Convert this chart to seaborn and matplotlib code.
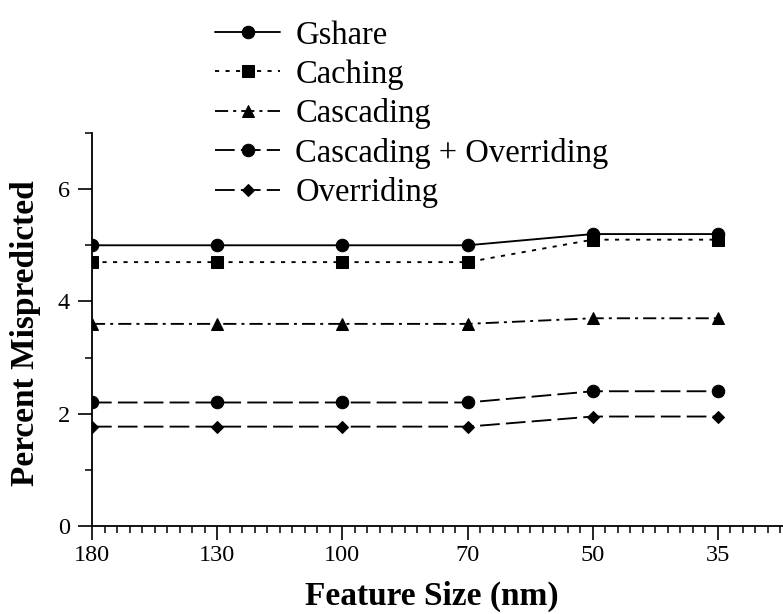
import matplotlib
matplotlib.use("Agg")
import matplotlib.pyplot as plt
from matplotlib.ticker import FixedLocator, MultipleLocator
import pandas as pd
import seaborn as sns

# Feature sizes (nm) and misprediction rates per predictor
feature_sizes = ["180", "130", "100", "70", "50", "35"]
gshare = [5.0, 5.0, 5.0, 5.0, 5.2, 5.2]
caching = [4.7, 4.7, 4.7, 4.7, 5.1, 5.1]
cascading = [3.6, 3.6, 3.6, 3.6, 3.7, 3.7]
cascading_overriding = [2.2, 2.2, 2.2, 2.2, 2.4, 2.4]
overriding = [1.77, 1.77, 1.77, 1.77, 1.95, 1.95]

series_names = ["Gshare", "Caching", "Cascading", "Cascading + Overriding", "Overriding"]
series_values = [gshare, caching, cascading, cascading_overriding, overriding]

rows = []
for name, vals in zip(series_names, series_values):
    for i, v in enumerate(vals):
        rows.append({"pos": i, "rate": v, "Predictor": name})
df = pd.DataFrame(rows)

sns.set_theme(style="ticks")
plt.rcParams["font.family"] = ["Liberation Serif", "DejaVu Serif"]
plt.rcParams["axes.linewidth"] = 1.3
plt.rcParams["text.color"] = "black"
plt.rcParams["axes.labelcolor"] = "black"

markers = {"Gshare": "o", "Caching": "s", "Cascading": "^",
           "Cascading + Overriding": "o", "Overriding": "D"}
dashes = {"Gshare": "",
          "Caching": (2.2, 3.4),
          "Cascading": (7.0, 2.7, 1.6, 2.7),
          "Cascading + Overriding": (10.5, 3.3),
          "Overriding": (10.5, 3.3)}
palette = {n: "black" for n in series_names}

fig = plt.figure(figsize=(7.83, 6.14), dpi=100)
ax = fig.add_axes([92 / 783, 88 / 614, (783 - 92) / 783, 393 / 614])

sns.lineplot(data=df, x="pos", y="rate", hue="Predictor", style="Predictor",
             hue_order=series_names, style_order=series_names,
             palette=palette, markers=markers, dashes=dashes,
             linewidth=1.35, markersize=9, markeredgecolor="black",
             ax=ax, legend=True)

# smaller diamonds and squares
for line in ax.lines:
    if line.get_marker() == "D":
        line.set_markersize(6.5)
    if line.get_marker() == "s":
        line.set_markersize(8)

ax.set_xlim(0, 5.52)
ax.set_ylim(0, 7)
ax.xaxis.set_major_locator(FixedLocator(range(len(feature_sizes))))
ax.set_xticklabels(feature_sizes)
ax.xaxis.set_minor_locator(MultipleLocator(0.1))
ax.yaxis.set_major_locator(FixedLocator([0, 2, 4, 6]))
ax.yaxis.set_minor_locator(FixedLocator([1, 3, 5, 7]))

ax.tick_params(axis="both", which="major", direction="out", length=10, width=1.2,
               labelsize=17.5, color="black", labelcolor="black")
ax.tick_params(axis="y", which="major", pad=6)
ax.tick_params(axis="x", which="major", pad=4)
ax.tick_params(axis="x", which="minor", direction="out", length=5, width=1.1, color="black")
ax.tick_params(axis="y", which="minor", direction="out", length=5, width=1.1, color="black")

for side in ["top", "right"]:
    ax.spines[side].set_visible(False)
for side in ["left", "bottom"]:
    ax.spines[side].set_color("black")

ax.set_xlabel("Feature Size (nm)", fontsize=24, fontweight="bold")
ax.set_ylabel("Percent Mispredicted", fontsize=24, fontweight="bold")
ax.xaxis.set_label_coords((432 - 92) / (783 - 92), -(581 - 526) / 393)
ax.yaxis.set_label_coords(-(92 - 41) / (783 - 92), 0.49)

handles, labels = ax.get_legend_handles_labels()
ax.get_legend().remove()
fig.legend(handles, labels, loc="upper left", bbox_to_anchor=(202 / 783, 1 - 7 / 614),
           frameon=False, fontsize=23.5, handlelength=2.0, handletextpad=0.46,
           labelspacing=0.26, borderaxespad=0.0)

fig.savefig("out.png", dpi=100)
